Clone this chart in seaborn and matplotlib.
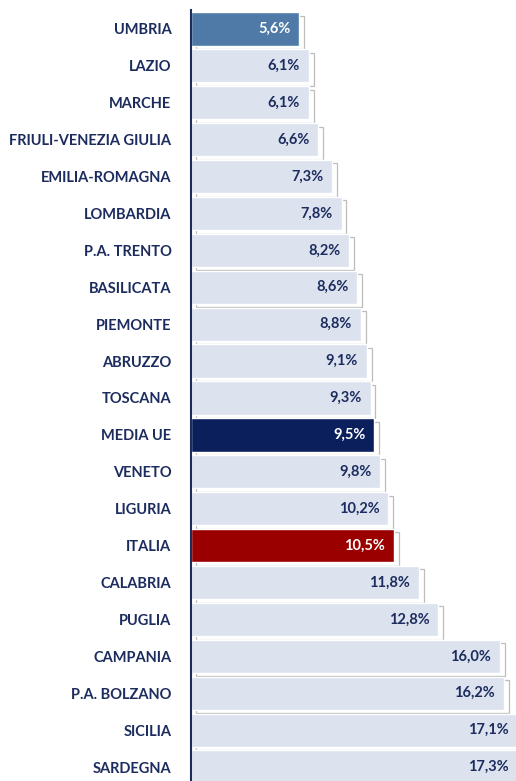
import matplotlib
matplotlib.use("Agg")
import matplotlib.pyplot as plt
import matplotlib.patheffects as pe
import seaborn as sns
import pandas as pd

regions = ["UMBRIA", "LAZIO", "MARCHE", "FRIULI-VENEZIA GIULIA", "EMILIA-ROMAGNA",
           "LOMBARDIA", "P.A. TRENTO", "BASILICATA", "PIEMONTE", "ABRUZZO", "TOSCANA",
           "MEDIA UE", "VENETO", "LIGURIA", "ITALIA", "CALABRIA", "PUGLIA", "CAMPANIA",
           "P.A. BOLZANO", "SICILIA", "SARDEGNA"]
values = [5.6, 6.1, 6.1, 6.6, 7.3, 7.8, 8.2, 8.6, 8.8, 9.1, 9.3,
          9.5, 9.8, 10.2, 10.5, 11.8, 12.8, 16.0, 16.2, 17.1, 17.3]

navy = "#1c2c5e"
base_col = "#dce3ef"
special = {"UMBRIA": "#4f7aa8", "MEDIA UE": "#0b1f5c", "ITALIA": "#9b0000"}
palette = {r: special.get(r, base_col) for r in regions}

df = pd.DataFrame({"regione": regions, "valore": values})

sns.set_style("white")
plt.rcParams["font.family"] = ["Lato", "DejaVu Sans"]

fig = plt.figure(figsize=(5.16, 7.81), dpi=100)
ax = fig.add_axes([0.370, -0.0058, 0.632, 0.9924])

sns.barplot(data=df, x="valore", y="regione", hue="regione", palette=palette,
            legend=False, width=0.9, saturation=1, ax=ax, orient="h")

# white offset box with thin grey edge behind each bar
shadow = [pe.PathPatchEffect(offset=(3.5, -2.5), facecolor="white",
                             edgecolor="#bdbdbd", linewidth=0.9),
          pe.Normal()]
for p in ax.patches:
    p.set_path_effects(shadow)

for i, (r, v) in enumerate(zip(regions, values)):
    col = "white" if r in special else navy
    ax.text(min(v, 16.88) - 0.45, i, f"{v:.1f}%".replace(".", ","), ha="right",
            va="center", color=col, fontsize=10.5, fontweight="bold")

ax.set_xlim(0, 16.88)
ax.set_ylim(20.5, -0.5)
ax.set_xlabel("")
ax.set_ylabel("")
ax.set_xticks([])
for s in ["top", "right", "bottom"]:
    ax.spines[s].set_visible(False)
ax.spines["left"].set_color(navy)
ax.spines["left"].set_linewidth(1.5)
ax.spines["left"].set_zorder(5)
ax.tick_params(axis="y", length=0, pad=14, labelsize=10.5, labelcolor=navy)
for t in ax.get_yticklabels():
    t.set_fontweight("bold")

fig.savefig("out.png", dpi=100)
